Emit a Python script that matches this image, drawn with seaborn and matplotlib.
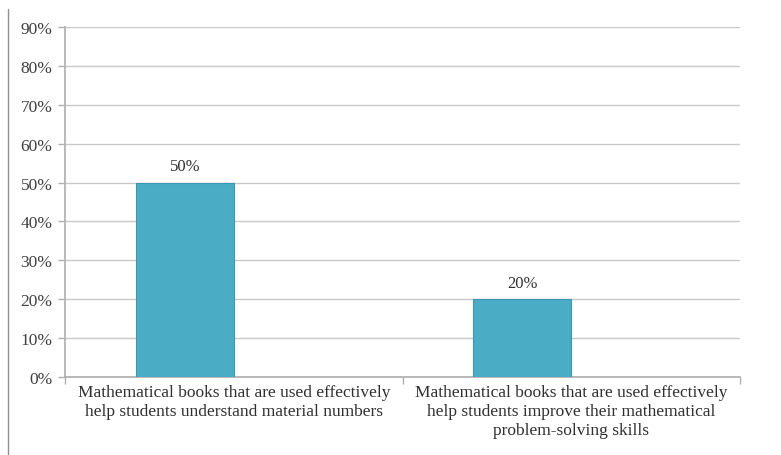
import matplotlib
matplotlib.use("Agg")
import matplotlib.pyplot as plt
import seaborn as sns
import pandas as pd
import numpy as np
from matplotlib.lines import Line2D
from matplotlib.ticker import FixedLocator

categories = [
    "Mathematical books that are used effectively\nhelp students understand material numbers",
    "Mathematical books that are used effectively\nhelp students improve their mathematical\nproblem-solving skills",
]
values = [50, 20]
series = ["Series1", "Series2"]
yticks = [0, 10, 20, 30, 40, 50, 60, 70, 80, 90]

sns.set_theme(style="white")
plt.rcParams['font.family'] = ['Liberation Serif', 'DejaVu Serif']

# Excel-style clustered chart: second (empty) series leaves the bar offset left
df = pd.DataFrame({
    "cat": categories * 2,
    "series": [series[0]] * 2 + [series[1]] * 2,
    "val": values + [np.nan, np.nan],
})

fig = plt.figure(figsize=(7.81, 4.56), dpi=100)
ax = fig.add_axes([65/781, 1-378/456, (740-65)/781, (378-28)/456])

sns.barplot(data=df, x="cat", y="val", hue="series",
            palette=["#4BACC6", "#4BACC6"], width=0.58, dodge=True,
            edgecolor="#3f97ae", linewidth=0.8, saturation=1, ax=ax,
            legend=False, zorder=3)

ax.set_xlim(-0.5, 1.5)
ax.set_ylim(0, 90)
ax.set_yticks(yticks)
ax.set_yticklabels([f"{v}%" for v in yticks], fontsize=12.5, color="#404040")
ax.yaxis.grid(True, color="#c8c8c8", linewidth=1, zorder=0)
ax.set_axisbelow(True)
ax.tick_params(axis="y", length=5, color="#b0b0b0", width=1, pad=4, left=True)
ax.tick_params(axis="x", which="major", length=0, pad=5)
ax.xaxis.set_minor_locator(FixedLocator([-0.5, 0.5, 1.5]))
ax.tick_params(axis="x", which="minor", length=5, color="#b0b0b0", width=1, bottom=True)
ax.set_xticks([0, 1])
ax.set_xticklabels(categories, fontsize=12.5, color="#303030", linespacing=1.25)
ax.set_xlabel("")
ax.set_ylabel("")

for s in ["top", "right"]:
    ax.spines[s].set_visible(False)
ax.spines["left"].set_color("#b0b0b0")
ax.spines["bottom"].set_color("#b0b0b0")

for c in ax.containers[:1]:
    ax.bar_label(c, labels=[f"{v}%" for v in values], padding=6,
                 fontsize=12, color="#303030")

fig.add_artist(Line2D([8/781, 8/781], [0, 1-10/456], transform=fig.transFigure,
                      color="#909090", linewidth=1))

fig.savefig("out.png", dpi=100)
